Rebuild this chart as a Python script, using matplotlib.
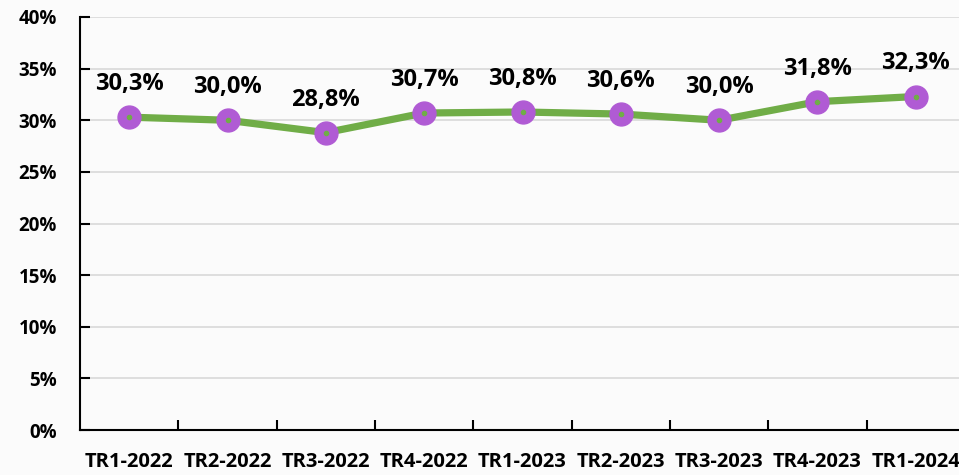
import matplotlib
matplotlib.use("Agg")
import matplotlib.pyplot as plt
from matplotlib.ticker import MultipleLocator, FuncFormatter

categories = ["TR1-2022", "TR2-2022", "TR3-2022", "TR4-2022", "TR1-2023",
              "TR2-2023", "TR3-2023", "TR4-2023", "TR1-2024"]
values = [30.3, 30.0, 28.8, 30.7, 30.8, 30.6, 30.0, 31.8, 32.3]
labels = ["30,3%", "30,0%", "28,8%", "30,7%", "30,8%", "30,6%", "30,0%", "31,8%", "32,3%"]

plt.rcParams['font.family'] = ['Open Sans', 'DejaVu Sans']

W, H = 959, 475
fig = plt.figure(figsize=(W / 100, H / 100), dpi=100)
fig.patch.set_facecolor("#FBFBFB")

left, right, top, bottom = 80, 965, 17, 430
ax = fig.add_axes([left / W, 1 - bottom / H, (right - left) / W, (bottom - top) / H])
ax.set_facecolor("none")

x = list(range(len(categories)))
ax.plot(x, values, color="#70AD47", lw=5.2, zorder=3, solid_capstyle="round")
ax.plot(x, values, linestyle="none", marker="o", markersize=16.5,
        markerfacecolor="#B05BD4", markeredgecolor="#B05BD4", zorder=4)
ax.plot(x, values, linestyle="none", marker="o", markersize=3,
        markerfacecolor="#70AD47", markeredgecolor="#70AD47", zorder=5)

for xi, v, lab in zip(x, values, labels):
    ax.annotate(lab, (xi, v), xytext=(0, 19.5), textcoords="offset points",
                ha="center", va="baseline", fontsize=17, fontweight="bold",
                color="black", zorder=6)

ax.set_xlim(-0.5, len(categories) - 0.5)
ax.set_ylim(0, 40)
ax.yaxis.set_major_locator(MultipleLocator(5))
ax.yaxis.set_major_formatter(FuncFormatter(lambda v, p: f"{int(round(v))}%"))
ax.grid(axis="y", color="#D9D9D9", lw=1.2, zorder=0)
ax.set_axisbelow(True)

ax.set_xticks(x)
ax.set_xticklabels(categories)
ax.set_xticks([i + 0.5 for i in x[:-1]], minor=True)
ax.tick_params(axis="x", which="major", length=0, pad=15.5, labelsize=14.5)
ax.tick_params(axis="x", which="minor", length=7, width=1.5, direction="in",
               color="black")
ax.tick_params(axis="y", which="major", length=7, width=1.5, direction="in",
               pad=16.5, labelsize=13.5)
for lab in ax.get_xticklabels() + ax.get_yticklabels():
    lab.set_fontweight("bold")

for s in ["top", "right"]:
    ax.spines[s].set_visible(False)
for s in ["left", "bottom"]:
    ax.spines[s].set_linewidth(1.5)
    ax.spines[s].set_color("black")

fig.savefig("out.png", dpi=100, facecolor=fig.get_facecolor())
